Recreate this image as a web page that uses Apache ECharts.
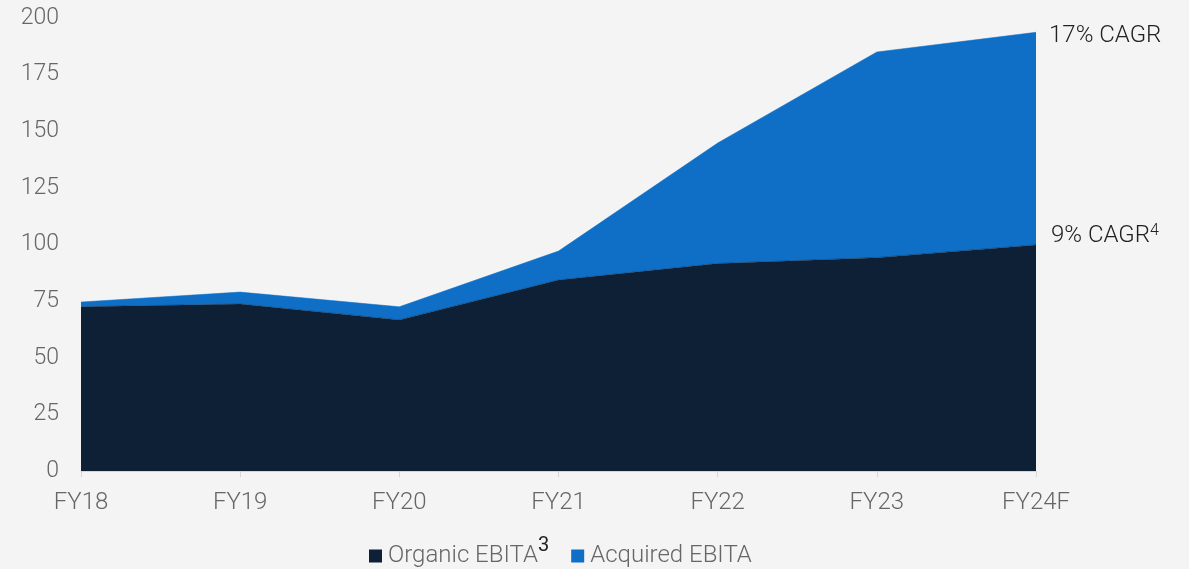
<!DOCTYPE html>
<html>
<head>
<meta charset="utf-8">
<script src="https://cdn.jsdelivr.net/npm/echarts@6/dist/echarts.min.js"></script>
<style>
html,body{margin:0;padding:0;background:#f4f4f4;}
#c{width:1189px;height:569px;}
</style>
</head>
<body>
<div id="c"></div>
<script>
const categories = ['FY18','FY19','FY20','FY21','FY22','FY23','FY24F'];
const organic = [72.5, 73.7, 66.7, 84.3, 91.6, 94.2, 99.8];
const acquired = [2.1, 5.3, 5.8, 12.8, 53.2, 90.8, 93.9];
const yTicks = {min:0, max:200, interval:25};
const organicName = 'Organic EBITA';
const acquiredName = 'Acquired EBITA';
const organicCagr = '9% CAGR';
const acquiredCagr = '17% CAGR';

const chart = echarts.init(document.getElementById('c'));
const font = 'Roboto';
chart.setOption({
  backgroundColor:'#f4f4f4',
  animation:false,
  grid:{left:81, right:153, top:18, bottom:98},
  legend:{
    top:531, left:364, itemWidth:13, itemHeight:13, itemGap:22, icon:'rect',
    textStyle:{fontFamily:font, fontWeight:300, fontSize:24, color:'#666', padding:[0,0,0,1],
      rich:{sup:{fontFamily:font, fontSize:20, color:'#222', fontWeight:400, padding:[0,0,20,0]}}},
    formatter: n => n===organicName ? n+'{sup|3}' : n,
    data:[organicName, acquiredName]
  },
  xAxis:{
    type:'category', data:categories, boundaryGap:false,
    axisLine:{lineStyle:{color:'#d6d6d6', width:1}},
    axisTick:{show:true, length:6, lineStyle:{color:'#d6d6d6'}},
    axisLabel:{fontFamily:font, fontWeight:300, fontSize:24, color:'#666', margin:20}
  },
  yAxis:{
    type:'value', min:yTicks.min, max:yTicks.max, interval:yTicks.interval,
    splitLine:{show:false}, axisLine:{show:false}, axisTick:{show:false},
    axisLabel:{fontFamily:font, fontWeight:300, fontSize:23, color:'#666', margin:22}
  },
  series:[
    {name:organicName, type:'line', stack:'t', data:organic, showSymbol:false, symbol:'none',
     color:'#0d2036', lineStyle:{width:0.5, color:'#0d2036'}, areaStyle:{color:'#0d2036', opacity:1},
     endLabel:{show:true, formatter: ()=> organicCagr+'{s|4}', offset:[7,-9],
       fontFamily:font, fontWeight:300, fontSize:24, color:'#222',
       rich:{s:{fontFamily:font, fontWeight:300, fontSize:16, color:'#222', padding:[0,0,9,0]}}}},
    {name:acquiredName, type:'line', stack:'t', data:acquired, showSymbol:false, symbol:'none',
     color:'#0f6fc6', lineStyle:{width:0.5, color:'#0f6fc6'}, areaStyle:{color:'#0f6fc6', opacity:1},
     endLabel:{show:true, formatter: ()=> acquiredCagr, offset:[5,4],
       fontFamily:font, fontWeight:300, fontSize:24, color:'#222'}}
  ]
});
</script>
</body>
</html>
